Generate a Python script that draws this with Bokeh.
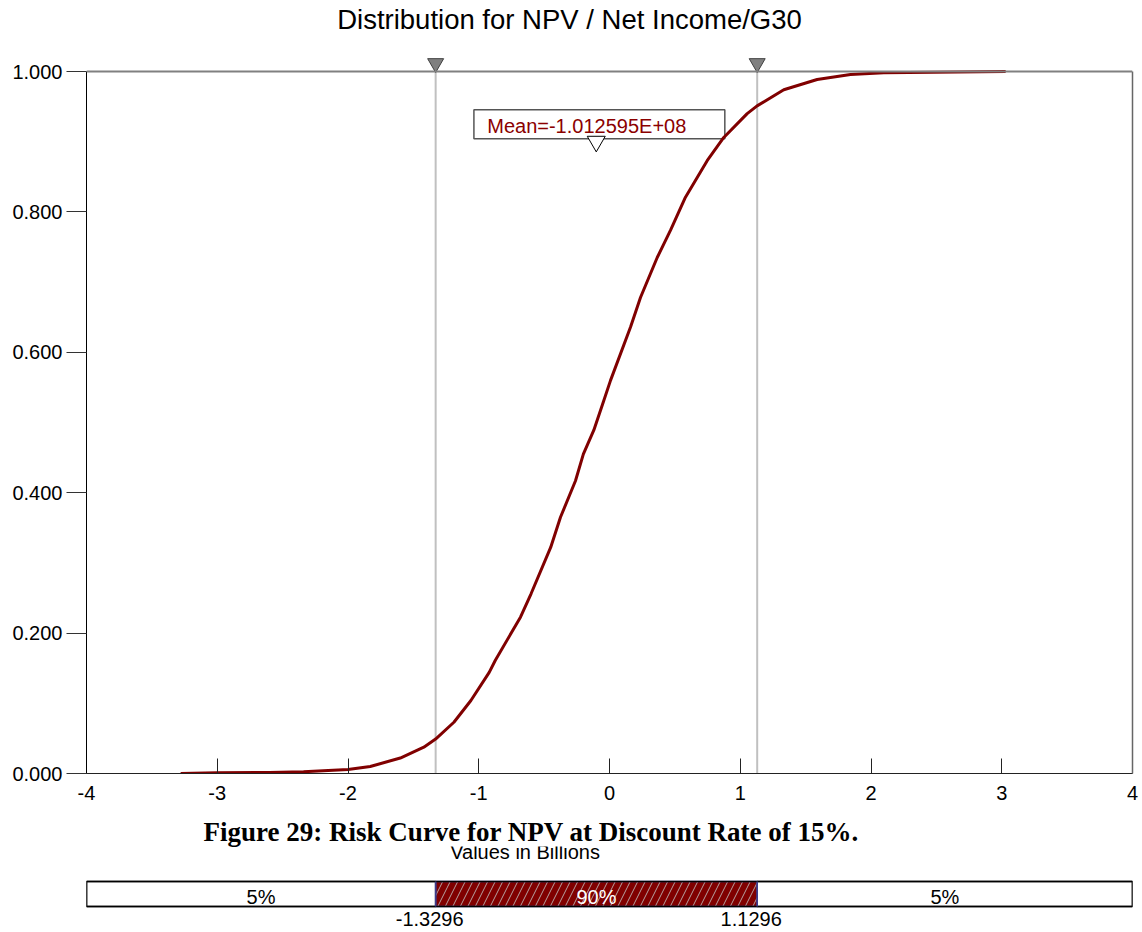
from bokeh.plotting import figure
from bokeh.layouts import column
from bokeh.models import Range1d, LinearAxis, FixedTicker, Span, Label
from bokeh.core.properties import value
from bokeh.embed import file_html
from bokeh.resources import INLINE

# Cumulative distribution of NPV (values in billions)
npv_values = [-3.28, -3.00, -2.60, -2.34, -2.00, -1.83, -1.60, -1.42, -1.33, -1.19,
              -1.06, -0.92, -0.874, -0.68, -0.60, -0.45, -0.375, -0.26, -0.20, -0.12,
              -0.044, 0.008, 0.161, 0.237, 0.365, 0.467, 0.581, 0.747, 0.874, 1.053,
              1.129, 1.333, 1.588, 1.843, 2.098, 2.48, 3.03]
cum_prob = [0.0, 0.001, 0.0015, 0.0024, 0.0057, 0.010, 0.022, 0.0375, 0.049, 0.073,
            0.104, 0.144, 0.161, 0.223, 0.256, 0.322, 0.365, 0.417, 0.455, 0.489,
            0.531, 0.560, 0.636, 0.678, 0.735, 0.774, 0.821, 0.873, 0.906, 0.940,
            0.951, 0.974, 0.9886, 0.9957, 0.9981, 0.9991, 1.0]

mean_value = -1.012595E+08 / 1e9
p5_value = -1.3296
p95_value = 1.1296
band_labels = ["5%", "90%", "5%"]

x_ticks = [-4, -3, -2, -1, 0, 1, 2, 3, 4]
x_tick_labels = ["-4", "-3", "-2", "-1", "0", "1", "2", "3", "4"]
y_ticks = [0.0, 0.2, 0.4, 0.6, 0.8, 1.0]
y_tick_labels = ["0.000", "0.200", "0.400", "0.600", "0.800", "1.000"]

title_text = "Distribution for NPV / Net Income/G30"
caption_text = "Figure 29: Risk Curve for NPV at Discount Rate of 15%."
axis_title = "Values in Billions"

SANS = "Liberation Sans"
SERIF = "Liberation Serif"
CURVE_RED = "#800000"

# ---------------- main risk-curve panel ----------------
p = figure(width=1142, height=812, x_range=Range1d(-4, 4), y_range=Range1d(0, 773 / 702),
           min_border_left=86, min_border_right=10, min_border_top=0, min_border_bottom=39,
           toolbar_location=None, output_backend="svg", x_axis_type=None, y_axis_type=None)
p.outline_line_color = None
p.background_fill_color = "white"
p.border_fill_color = "white"

xaxis = LinearAxis(ticker=FixedTicker(ticks=x_ticks),
                   major_label_overrides={t: s for t, s in zip(x_ticks, x_tick_labels)})
xaxis.major_tick_in = 15
xaxis.major_tick_out = 0
xaxis.minor_tick_line_color = None
xaxis.axis_line_color = "#222222"
xaxis.major_tick_line_color = "#222222"
xaxis.major_label_standoff = 12
xaxis.major_label_text_font = SANS
xaxis.major_label_text_font_size = "20px"
xaxis.major_label_text_color = "black"
p.add_layout(xaxis, "below")

yaxis = LinearAxis(ticker=FixedTicker(ticks=y_ticks), bounds=(0, 1),
                   major_label_overrides={t: s for t, s in zip(y_ticks, y_tick_labels)})
yaxis.major_tick_in = 0
yaxis.major_tick_out = 20
yaxis.minor_tick_line_color = None
yaxis.axis_line_color = "black"
yaxis.major_tick_line_color = "#333333"
yaxis.major_label_standoff = 4
yaxis.major_label_text_font = SANS
yaxis.major_label_text_font_size = "20px"
yaxis.major_label_text_color = "black"
p.add_layout(yaxis, "left")

right_edge = LinearAxis(ticker=FixedTicker(ticks=[]), bounds=(0, 1))
right_edge.axis_line_color = "#666666"
right_edge.axis_line_width = 1.5
right_edge.major_tick_in = 0
right_edge.major_tick_out = 0
right_edge.minor_tick_line_color = None
right_edge.major_label_standoff = 0
p.add_layout(right_edge, "right")

# percentile guide lines
p.segment(x0=[p5_value, p95_value], y0=[0, 0], x1=[p5_value, p95_value], y1=[1, 1],
          line_color="#c0c0c0", line_width=2)

# title
p.text(x=[-0.306], y=[1.0741], text=[title_text], text_align="center",
       text_baseline="alphabetic", text_font=value(SANS), text_font_size="27.5px",
       text_color="black")

# mean callout box
p.quad(left=[-1.037], right=[0.882], bottom=[0.9041], top=[0.9454],
       fill_color="white", line_color="#555555", line_width=1.5)
p.text(x=[-0.935], y=[0.9217], text=["Mean=%.6E" % (mean_value * 1e9)],
       text_align="left", text_baseline="alphabetic", text_font=value(SANS),
       text_font_size="20px", text_color="#8b0000")

# cumulative curve
p.line(npv_values, cum_prob, line_color=CURVE_RED, line_width=3)

# mean marker
p.scatter(x=[mean_value], y=[0.9003], marker="inverted_triangle", size=18,
          fill_color="white", line_color="black", line_width=1)

# top border of the plotting area
p.add_layout(Span(location=1, dimension="width", line_color="#808080", line_width=2))

# percentile markers on the top edge
p.scatter(x=[p5_value, p95_value], y=[1.0117, 1.0117], marker="inverted_triangle",
          size=16, fill_color="#808080", line_color="#404040", line_width=1)

# ---------------- caption and percentile band ----------------
b = figure(width=1142, height=120, x_range=Range1d(-4, 4), y_range=Range1d(120, 0),
           min_border_left=86, min_border_right=10, min_border_top=0, min_border_bottom=0,
           toolbar_location=None, output_backend="svg", x_axis_type=None, y_axis_type=None)
b.outline_line_color = None
b.grid.visible = False

b.text(x=[-0.646], y=[39], text=[axis_title], text_align="center",
       text_baseline="alphabetic", text_font=value(SANS), text_font_size="20px",
       text_color="black")

b.add_layout(Label(x=-0.597, y=19, text=caption_text, text_align="center",
                   text_baseline="alphabetic", text_font=SERIF, text_font_style="bold",
                   text_font_size="27px", text_color="black",
                   background_fill_color="white"))

lefts = [-4, p5_value, p95_value]
rights = [p5_value, p95_value, 4]
b.quad(left=[lefts[0], lefts[2]], right=[rights[0], rights[2]], top=[69, 69], bottom=[94, 94],
       fill_color="white", line_color="black", line_width=1.5)
b.quad(left=[lefts[1]], right=[rights[1]], top=[69], bottom=[94],
       fill_color="#800000", line_color="#3c3c8c", line_width=1.5,
       hatch_pattern="/", hatch_color="#b4a0a0", hatch_scale=15, hatch_weight=1)
b.quad(left=[-4], right=[4], top=[69], bottom=[94], fill_color=None,
       line_color="black", line_width=1.5)
b.segment(x0=[p5_value, p95_value], y0=[69, 69], x1=[p5_value, p95_value], y1=[94, 94],
          line_color="#3c3c8c", line_width=1.5)

centers = [(l + r) / 2 for l, r in zip(lefts, rights)]
b.text(x=centers, y=[84, 84, 84], text=band_labels, text_align="center",
       text_baseline="alphabetic", text_font=value(SANS), text_font_size="20px",
       text_color=["black", "white", "black"])

b.text(x=[p5_value, p95_value], y=[106, 106],
       text=["%.4f" % p5_value, "%.4f" % p95_value], x_offset=-6,
       text_align="center", text_baseline="alphabetic", text_font=value(SANS),
       text_font_size="20px", text_color="black")

layout = column(p, b, spacing=0)
open("out.html", "w").write(file_html(layout, INLINE))
